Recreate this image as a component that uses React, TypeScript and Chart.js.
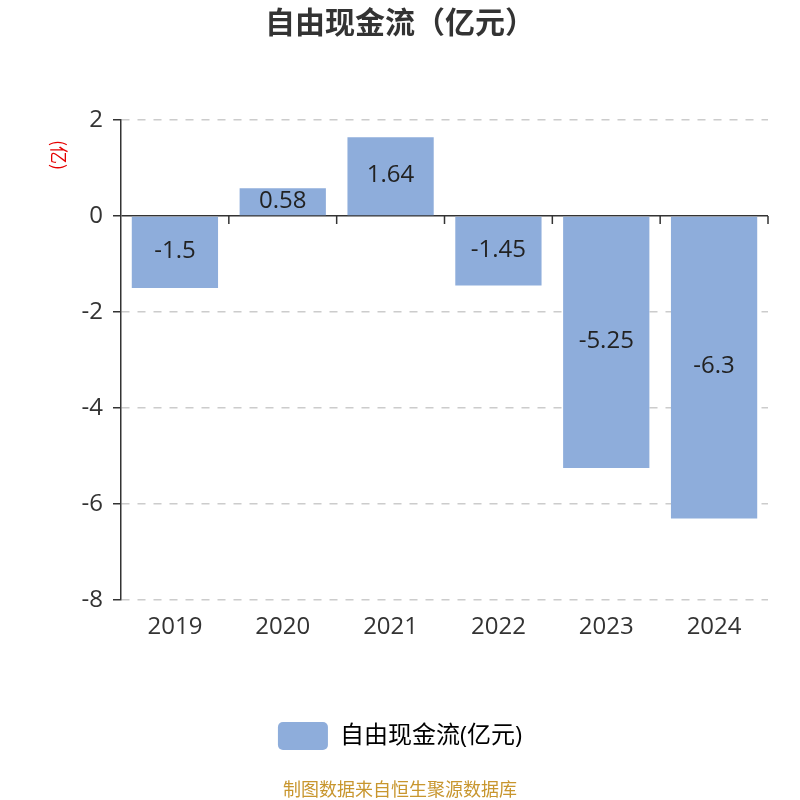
import { useEffect, useRef } from 'react';
import { Chart, registerables } from 'chart.js';

Chart.register(...registerables);

const years = ['2019', '2020', '2021', '2022', '2023', '2024'];
const freeCashFlow = [-1.5, 0.58, 1.64, -1.45, -5.25, -6.3];
const yMin = -8;
const yMax = 2;
const yStep = 2;

const FONT = '"Open Sans", "Noto Sans CJK SC", sans-serif';
const CJK_FONT = '"Noto Sans CJK SC", sans-serif';
const BAR_COLOR = '#8eaddb';

// value labels in the middle of each bar, axis name and footer note
const extrasPlugin = {
  id: 'extras',
  beforeDatasetsDraw(chart: any) {
    const { ctx, chartArea, scales } = chart;
    const y0 = scales.y.getPixelForValue(0);
    ctx.save();
    ctx.strokeStyle = '#333';
    ctx.lineWidth = 1.5;
    for (let i = 0; i <= years.length; i++) {
      const x = scales.x.getPixelForValue(i - 0.5);
      if (x <= chartArea.left + 1) continue;
      ctx.beginPath();
      ctx.moveTo(x, y0);
      ctx.lineTo(x, y0 + 8);
      ctx.stroke();
    }
    ctx.restore();
  },
  afterDatasetsDraw(chart: any) {
    const { ctx } = chart;
    const meta = chart.getDatasetMeta(0);
    ctx.save();
    ctx.font = `24px ${FONT}`;
    ctx.fillStyle = '#222';
    ctx.textAlign = 'center';
    ctx.textBaseline = 'middle';
    meta.data.forEach((bar: any, i: number) => {
      ctx.fillText(String(freeCashFlow[i]), bar.x, (bar.y + bar.base) / 2 - 1);
    });
    ctx.restore();
  },
  afterDraw(chart: any) {
    const { ctx, width, height } = chart;
    ctx.save();
    ctx.translate(59, 155);
    ctx.rotate(Math.PI / 2);
    ctx.font = `18px ${CJK_FONT}`;
    ctx.fillStyle = '#e60000';
    ctx.textAlign = 'center';
    ctx.textBaseline = 'middle';
    ctx.fillText('(亿)', 0, 0);
    ctx.restore();

    ctx.save();
    ctx.font = `18px ${CJK_FONT}`;
    ctx.fillStyle = '#c8962e';
    ctx.textAlign = 'center';
    ctx.textBaseline = 'middle';
    ctx.fillText('制图数据来自恒生聚源数据库', width / 2, height - 11);
    ctx.restore();
  },
};

export default function App() {
  const chartRef = useRef<HTMLCanvasElement>(null);

  useEffect(() => {
    if (!chartRef.current) return;

    const chart = new Chart(chartRef.current, {
      type: 'bar',
      data: {
        labels: years,
        datasets: [{
          label: '自由现金流(亿元)',
          data: freeCashFlow,
          backgroundColor: BAR_COLOR,
          barPercentage: 0.8,
          categoryPercentage: 1,
        }],
      },
      options: {
        responsive: true,
        maintainAspectRatio: false,
        animation: false,
        layout: { padding: { left: 0, right: 0, top: 0, bottom: 40 } },
        scales: {
          x: {
            grid: { display: false, drawTicks: false },
            border: { display: false },
            ticks: { font: { family: FONT, size: 24 }, color: '#333', padding: 13 },
            afterFit: (scale: any) => { scale.height = 112; },
          },
          y: {
            min: yMin,
            max: yMax,
            ticks: { stepSize: yStep, font: { family: FONT, size: 24 }, color: '#333', padding: 10 },
            grid: {
              color: (c: any) => (c.tick && c.tick.value === 0 ? '#333' : '#ccc'),
              lineWidth: 1.5,
              tickColor: '#333',
              tickLength: 8,
              tickWidth: 1.5,
            },
            border: {
              display: true,
              color: '#333',
              width: 1.5,
              dash: (c: any) => (c.tick && c.tick.value === 0 ? [] : [8, 8]),
            },
            afterFit: (scale: any) => { scale.width = 121; },
          },
          // empty right-hand gutter so title and legend stay centred on the canvas
          yRight: {
            position: 'right',
            min: yMin,
            max: yMax,
            ticks: { display: false },
            grid: { display: false, drawTicks: false },
            border: { display: false },
            afterFit: (scale: any) => { scale.width = 32; },
          },
        },
        plugins: {
          title: {
            display: true,
            text: '自由现金流（亿元）',
            color: '#333',
            font: { family: CJK_FONT, size: 30, weight: 'bold' },
            padding: { top: 4, bottom: 80 },
          },
          legend: {
            position: 'bottom',
            labels: {
              boxWidth: 50,
              boxHeight: 28,
              padding: 10,
              color: '#333',
              font: { family: FONT, size: 24 },
              generateLabels: () => [{
                text: '自由现金流(亿元)',
                fillStyle: BAR_COLOR,
                strokeStyle: BAR_COLOR,
                lineWidth: 0,
                borderRadius: 5,
                datasetIndex: 0,
              } as any],
            },
          },
          tooltip: { enabled: false },
        },
      },
      plugins: [extrasPlugin],
    });

    return () => {
      chart.destroy();
    };
  }, []);

  return (
    <div style={{ position: 'absolute', left: 0, top: 0, width: 800, height: 800 }}>
      <canvas ref={chartRef} />
    </div>
  );
}
